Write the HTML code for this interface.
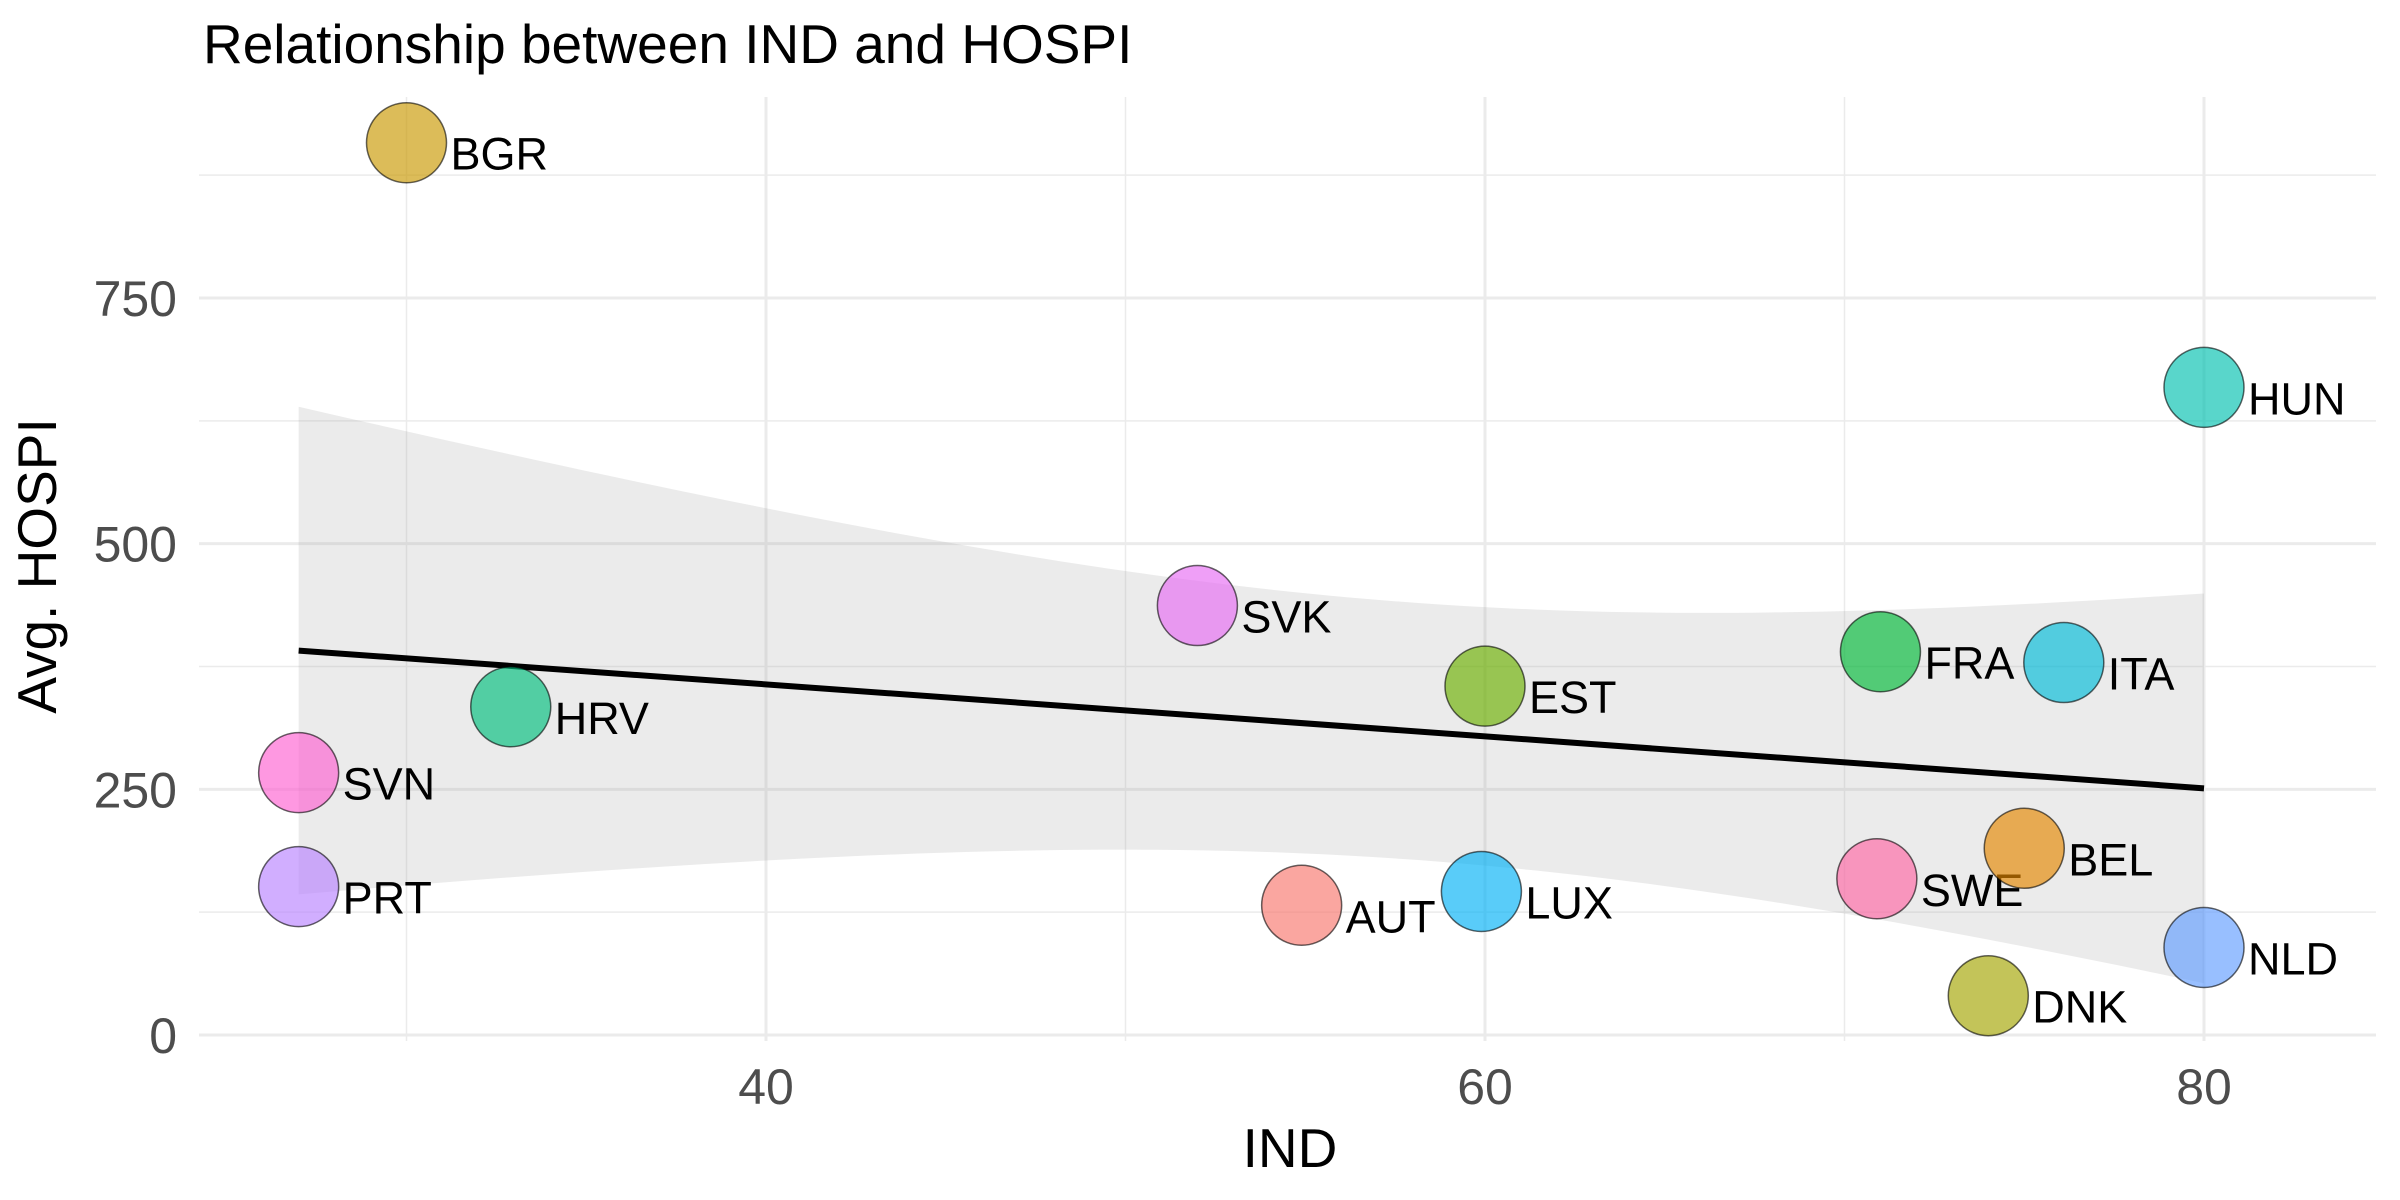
<!DOCTYPE html>
<html><head><meta charset="utf-8"><style>
html,body{margin:0;padding:0;background:#fff}
svg{display:block;font-family:"Liberation Sans",sans-serif}
</style></head><body>
<svg id="chart" width="2400" height="1200" viewBox="0 0 2400 1200">
<text x="203" y="63" font-size="55" fill="#000">Relationship between IND and HOSPI</text>
<g id="grid"></g>
<g id="band"></g>
<g id="points"></g>
<g id="axes"></g>
<text x="1290" y="1167" font-size="55" text-anchor="middle" fill="#000">IND</text>
<text transform="translate(56,566) rotate(-90)" font-size="55" text-anchor="middle" fill="#000">Avg. HOSPI</text>
</svg>
<script>
const countries = ["BGR","HUN","SVK","EST","FRA","ITA","HRV","SVN","PRT","AUT","LUX","SWE","BEL","NLD","DNK"];
const indValues = [30,80,52,60,71,76.1,32.9,27,27,54.9,59.9,70.9,75,80,74];
const hospiValues = [908,659,437,355,390,379,334,267,151,132,146,159,190,89,40];
const pointColors = ["#C99800","#00C0AF","#E76BF3","#6BB100","#00BA38","#00BCD8","#00BF7D","#FD61D1","#B983FF","#F8766D","#00B0F6","#FF67A4","#E58700","#619CFF","#A3A500"];
const xTicks = [40,60,80];
const xMinor = [30,50,70];
const yTicks = [0,250,500,750];
const yMinor = [125,375,625,875];

const NS="http://www.w3.org/2000/svg";
const PL=199, PR=2376, PT=97, PB=1041;
function sx(v){return 766+(v-40)*35.95;}
function sy(v){return 1035-v*0.9827;}
function mk(tag,attrs,parent){const e=document.createElementNS(NS,tag);for(const k in attrs)e.setAttribute(k,attrs[k]);parent.appendChild(e);return e;}
const grid=document.getElementById('grid');
xMinor.forEach(v=>{const l=mk('line',{x1:sx(v),x2:sx(v),y1:PT,y2:PB,stroke:'#EBEBEB','stroke-width':1.5},grid);

});
yMinor.forEach(v=>{const l=mk('line',{x1:PL,x2:PR,y1:sy(v),y2:sy(v),stroke:'#EBEBEB','stroke-width':1.5},grid);

});
xTicks.forEach(v=>{const l=mk('line',{x1:sx(v),x2:sx(v),y1:PT,y2:PB,stroke:'#EBEBEB','stroke-width':3},grid);

});
yTicks.forEach(v=>{const l=mk('line',{x1:PL,x2:PR,y1:sy(v),y2:sy(v),stroke:'#EBEBEB','stroke-width':3},grid);

});
const axes=document.getElementById('axes');
xTicks.forEach(v=>{const t=mk('text',{x:sx(v),y:1104,'font-size':50,'text-anchor':'middle',fill:'#4D4D4D'},axes);t.textContent=v;

});
yTicks.forEach(v=>{const t=mk('text',{x:177,y:sy(v)+18,'font-size':50,'text-anchor':'end',fill:'#4D4D4D'},axes);t.textContent=v;

});

// linear fit with 95% CI
const n=indValues.length;
const xm=indValues.reduce((a,b)=>a+b)/n, ym=hospiValues.reduce((a,b)=>a+b)/n;
let sxx=0,sxy=0;for(let i=0;i<n;i++){sxx+=(indValues[i]-xm)**2;sxy+=(indValues[i]-xm)*(hospiValues[i]-ym);}
const b=sxy/sxx,a=ym-b*xm;
let sse=0;for(let i=0;i<n;i++)sse+=(hospiValues[i]-a-b*indValues[i])**2;
const s=Math.sqrt(sse/(n-2)), tq=2.16;
const x0=Math.min(...indValues), x1=Math.max(...indValues);
let up=[],lo=[];
for(let k=0;k<=80;k++){const x=x0+(x1-x0)*k/80;const f=a+b*x;const se=s*Math.sqrt(1/n+(x-xm)**2/sxx);
up.push(sx(x)+','+sy(f+tq*se));lo.push(sx(x)+','+sy(f-tq*se));}
const band=document.getElementById('band');
const poly=mk('polygon',{points:up.concat(lo.reverse()).join(' '),fill:'#999',"fill-opacity":0.2},band);


const fl=mk('line',{x1:sx(x0),y1:sy(a+b*x0),x2:sx(x1),y2:sy(a+b*x1),stroke:'#000','stroke-width':6},band);



const pts=document.getElementById('points');
countries.forEach((c,i)=>{
 const cx=sx(indValues[i]),cy=sy(hospiValues[i]);
 const ci=mk('circle',{cx:cx,cy:cy,r:40,fill:pointColors[i],'fill-opacity':0.65,stroke:'#000','stroke-opacity':0.6,'stroke-width':1.5},pts);
 
 
 const t=mk('text',{x:cx+44,y:cy+27,'font-size':45,fill:'#000'},pts);t.textContent=c;
 
 
});
</script>
</body></html>
